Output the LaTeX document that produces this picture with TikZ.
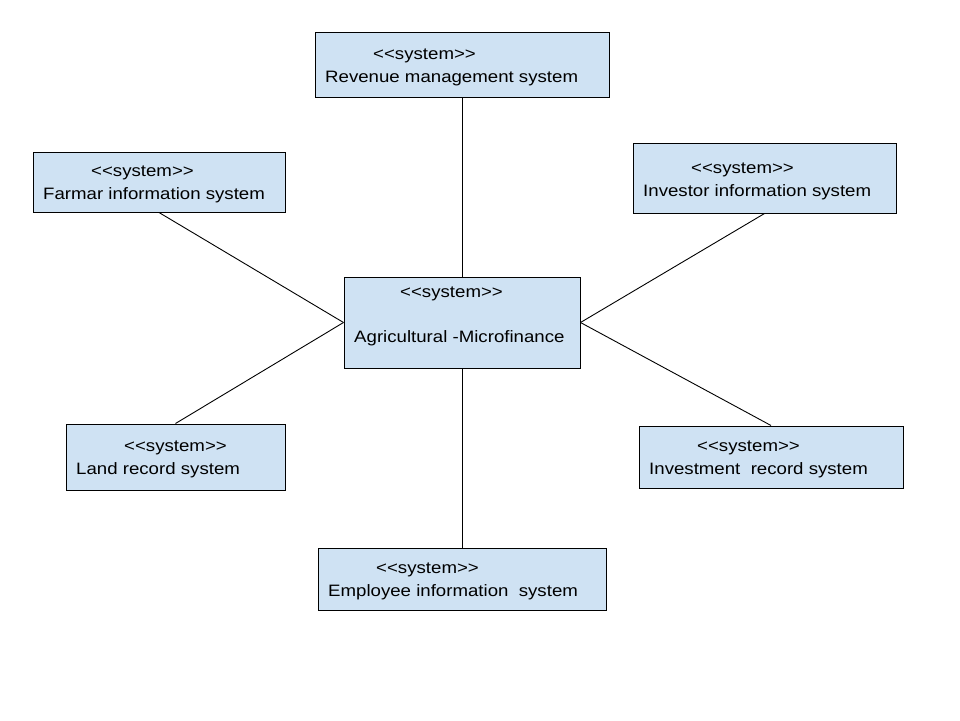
\documentclass[tikz,border=0pt]{standalone}
\usepackage{fontspec}
\setmainfont{Liberation Sans}[FakeStretch=1.13]
\definecolor{boxfill}{HTML}{CFE2F3}
\newcommand{\stereo}{{<}{<}system{>}{>}}
\begin{document}
\begin{tikzpicture}[x=1pt,y=-1pt,
  sysbox/.style={draw=black,fill=boxfill,line width=1pt,inner sep=0pt},
  txt/.style={anchor=base west,inner sep=0pt,font=\fontsize{16.5}{19}\selectfont},
  conn/.style={draw=black,line width=0.9pt}]
\useasboundingbox[fill=white] (0,0) rectangle (960,720);
% boxes
\node[sysbox,minimum width=294pt,minimum height=65pt] (rev) at (462,64.5) {};
\node[sysbox,minimum width=252pt,minimum height=60pt] (far) at (159,182) {};
\node[sysbox,minimum width=263pt,minimum height=70pt] (inv) at (764.5,178) {};
\node[sysbox,minimum width=236pt,minimum height=91pt] (ctr) at (462,322.5) {};
\node[sysbox,minimum width=219pt,minimum height=66pt] (land) at (175.5,457) {};
\node[sysbox,minimum width=264pt,minimum height=62pt] (invr) at (771,457) {};
\node[sysbox,minimum width=288pt,minimum height=62pt] (emp) at (462,579) {};
% texts
\node[txt] (revs) at (373,59.5) {\stereo};
\node[txt] (revt) at (325,82.5) {Revenue management system};
\node[txt] (fars) at (91,176.5) {\stereo};
\node[txt] (fart) at (43,199.5) {Farmar information system};
\node[txt] (invs) at (691,173.5) {\stereo};
\node[txt] (invt) at (643,196.5) {Investor information system};
\node[txt] (ctrs) at (400,297.5) {\stereo};
\node[txt] (ctrt) at (354,342) {Agricultural -Microfinance};
\node[txt] (lands) at (124,451.5) {\stereo};
\node[txt] (landt) at (76,474.5) {Land record system};
\node[txt] (invrs) at (697,451.5) {\stereo};
\node[txt] (invrt) at (649,474.5) {Investment\ \ record system};
\node[txt] (emps) at (376,573.5) {\stereo};
\node[txt] (empt) at (328,596.5) {Employee information\ \ system};
% connectors
\draw[conn] (rev.south) -- (ctr.north);
\draw[conn] (emp.north) -- (ctr.south);
\draw[conn] (far.south) -- (ctr.west);
\draw[conn] (land.north) -- (ctr.west);
\draw[conn] (inv.south) -- (ctr.east);
\draw[conn] (invr.north) -- (ctr.east);
\end{tikzpicture}
\end{document}
